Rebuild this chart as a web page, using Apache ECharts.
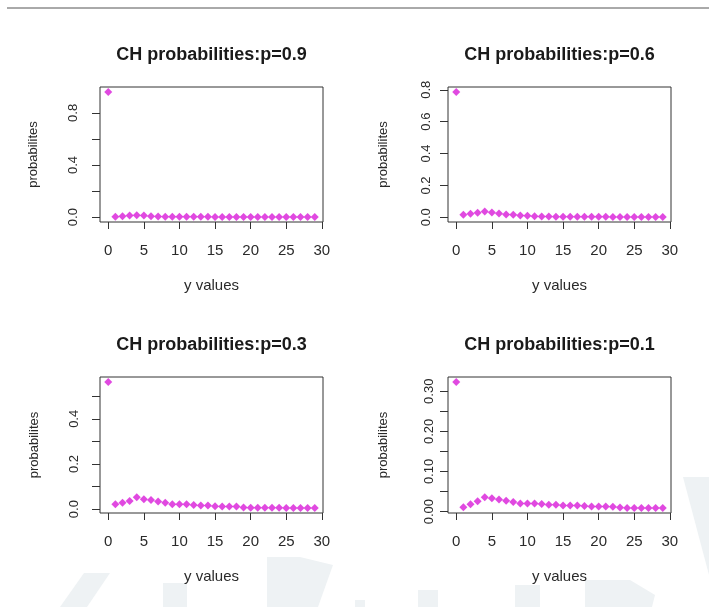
<!DOCTYPE html>
<html>
<head>
<meta charset="utf-8">
<script src="https://cdn.jsdelivr.net/npm/echarts@6/dist/echarts.min.js"></script>
<style>
html,body{margin:0;padding:0;background:#fff}
#chart{width:709px;height:607px}
</style>
</head>
<body>
<div id="chart"></div>
<script>
// x values (y = 0..29)
var yValues = [0,1,2,3,4,5,6,7,8,9,10,11,12,13,14,15,16,17,18,19,20,21,22,23,24,25,26,27,28,29];

// CH probabilities
var probP09 = [0.960,0.003,0.007,0.012,0.014,0.012,0.006,0.004,0.003,0.003,0.002,0.002,0.002,0.002,0.002,
               0.001,0.001,0.001,0.001,0.001,0.001,0.001,0.001,0.001,0.001,0.001,0.001,0.001,0.001,0.001];
var probP06 = [0.786,0.016,0.022,0.028,0.036,0.030,0.024,0.018,0.016,0.012,0.010,0.006,0.005,0.005,0.004,
               0.004,0.004,0.003,0.003,0.003,0.003,0.003,0.002,0.002,0.002,0.002,0.002,0.002,0.002,0.002];
var probP03 = [0.563,0.021,0.028,0.036,0.052,0.044,0.040,0.034,0.028,0.021,0.021,0.021,0.018,0.016,0.016,
               0.013,0.012,0.012,0.012,0.007,0.006,0.006,0.006,0.006,0.006,0.005,0.005,0.005,0.005,0.005];
var probP01 = [0.323,0.011,0.018,0.026,0.036,0.033,0.030,0.027,0.024,0.020,0.020,0.020,0.019,0.017,0.017,
               0.015,0.015,0.015,0.014,0.0125,0.0125,0.0125,0.012,0.010,0.009,0.009,0.009,0.009,0.009,0.009];

// tick marks and labels
var xTicks = [0,5,10,15,20,25,30];
var yTicksP09 = [0,0.2,0.4,0.6,0.8],  yLabelsP09 = [0,0.4,0.8];
var yTicksP06 = [0,0.2,0.4,0.6,0.8],  yLabelsP06 = [0,0.2,0.4,0.6,0.8];
var yTicksP03 = [0,0.1,0.2,0.3,0.4,0.5], yLabelsP03 = [0,0.2,0.4];
var yTicksP01 = [0,0.05,0.1,0.15,0.2,0.25,0.3], yLabelsP01 = [0,0.1,0.2,0.3];

var titles = ['CH probabilities:p=0.9','CH probabilities:p=0.6','CH probabilities:p=0.3','CH probabilities:p=0.1'];

var panels = [
    {data:probP09, ticks:yTicksP09, labels:yLabelsP09, digits:1},
    {data:probP06, ticks:yTicksP06, labels:yLabelsP06, digits:1},
    {data:probP03, ticks:yTicksP03, labels:yLabelsP03, digits:1},
    {data:probP01, ticks:yTicksP01, labels:yLabelsP01, digits:2}
];

// plot boxes (R style layout)
var boxes = [
    {left:100, top:87,  width:223, height:135, margin:20, gap:60},
    {left:448, top:87,  width:223, height:135, margin:15, gap:58},
    {left:100, top:377, width:223, height:136, margin:19, gap:59},
    {left:448, top:377, width:223, height:136, margin:12, gap:58}
];

var font = 'Liberation Sans';
var ink = '#2a2a2a';

// R pads the data range by 4% on each side
function padRange(arr){
    var lo = Math.min.apply(null, arr), hi = Math.max.apply(null, arr);
    var d = (hi - lo) * 0.04;
    return [lo - d, hi + d];
}

var option = {
    backgroundColor:'#fff',
    animation:false,
    title:[], grid:[], xAxis:[], yAxis:[], series:[],
    graphic:[
        // watermark shapes
        {type:'polygon', z:-10, shape:{points:[[60,607],[84,573],[110,573],[87,607]]}, style:{fill:'#eef2f4'}},
        {type:'rect', z:-10, shape:{x:163,y:583,width:24,height:24}, style:{fill:'#eef2f4'}},
        {type:'polygon', z:-10, shape:{points:[[267,607],[267,557],[300,557],[333,565],[318,607]]}, style:{fill:'#eef2f4'}},
        {type:'rect', z:-10, shape:{x:355,y:600,width:10,height:7}, style:{fill:'#eef2f4'}},
        {type:'rect', z:-10, shape:{x:418,y:590,width:20,height:17}, style:{fill:'#eef2f4'}},
        {type:'rect', z:-10, shape:{x:515,y:585,width:25,height:22}, style:{fill:'#eef2f4'}},
        {type:'polygon', z:-10, shape:{points:[[585,607],[585,580],[630,580],[655,595],[652,607]]}, style:{fill:'#eef2f4'}},
        {type:'polygon', z:-10, shape:{points:[[683,477],[709,477],[709,575]]}, style:{fill:'#eef2f4'}},
        // rule at the top of the page
        {type:'line', shape:{x1:7,y1:8,x2:709,y2:8}, style:{stroke:'#555',lineWidth:1}}
    ]
};

panels.forEach(function(p, i){
    var b = boxes[i];
    var xr = padRange(yValues), yr = padRange(p.data);
    option.title.push({
        text:titles[i], left:b.left + b.width/2, top:b.top - 41, textAlign:'center', padding:0,
        textStyle:{fontFamily:font, fontSize:18, fontWeight:'bold', color:'#1a1a1a'}
    });
    option.grid.push({
        left:b.left, top:b.top, width:b.width, height:b.height,
        show:true, borderColor:'#333', borderWidth:1, backgroundColor:'transparent'
    });
    option.xAxis.push({
        type:'value', gridIndex:i, min:xr[0], max:xr[1],
        name:'y values', nameLocation:'middle', nameGap:56,
        nameTextStyle:{fontFamily:font, fontSize:15, color:ink},
        axisLine:{show:false, onZero:false},
        splitLine:{show:false},
        axisTick:{show:true, inside:false, length:7, customValues:xTicks, lineStyle:{color:'#333'}},
        axisLabel:{customValues:xTicks, margin:21, fontFamily:font, fontSize:15, color:ink}
    });
    option.yAxis.push({
        type:'value', gridIndex:i, min:yr[0], max:yr[1],
        name:'probabilites', nameLocation:'middle', nameRotate:90, nameGap:b.gap,
        nameTextStyle:{fontFamily:font, fontSize:13, color:ink},
        axisLine:{show:false, onZero:false},
        splitLine:{show:false},
        axisTick:{show:true, inside:false, length:8, customValues:p.ticks, lineStyle:{color:'#333'}},
        axisLabel:{
            customValues:p.labels, rotate:90, margin:b.margin,
            fontFamily:font, fontSize:13, color:ink,
            formatter:function(v){ return v.toFixed(p.digits); }
        }
    });
    option.series.push({
        type:'scatter', xAxisIndex:i, yAxisIndex:i,
        symbol:'diamond', symbolSize:8,
        itemStyle:{color:'#d81cd8'},
        data:yValues.map(function(x, j){ return [x, p.data[j]]; })
    });
});

var myChart = echarts.init(document.getElementById('chart'));
myChart.setOption(option);
</script>
</body>
</html>
